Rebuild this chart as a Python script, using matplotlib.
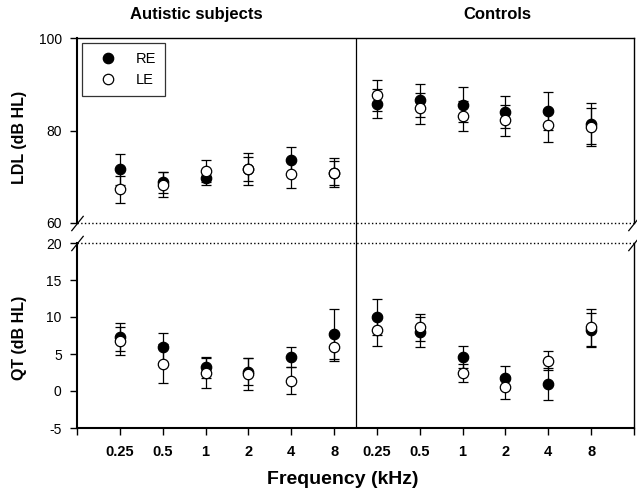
import numpy as np
import matplotlib
matplotlib.use("Agg")
from matplotlib import pyplot as plt
from matplotlib import transforms
from matplotlib.lines import Line2D

plt.rcParams['font.family'] = ['Liberation Sans', 'DejaVu Sans']

# ---------- data ----------
freqs = ['0.25', '0.5', '1', '2', '4', '8']
groups = ['Autistic subjects', 'Controls']

# LDL (dB HL), mean and SD
ldl_re_aut = [71.6, 68.8, 69.8, 71.7, 73.6, 70.9]
ldl_re_aut_sd = [3.4, 2.3, 1.6, 3.4, 2.9, 3.1]
ldl_le_aut = [67.3, 68.3, 71.2, 71.6, 70.6, 70.9]
ldl_le_aut_sd = [2.9, 2.7, 2.4, 2.6, 3.1, 2.6]
ldl_re_con = [85.8, 86.5, 85.6, 84.0, 84.2, 81.5]
ldl_re_con_sd = [3.1, 3.6, 3.8, 3.4, 4.1, 4.5]
ldl_le_con = [87.6, 84.8, 83.1, 82.2, 81.1, 80.7]
ldl_le_con_sd = [3.4, 3.4, 3.2, 3.3, 3.5, 4.1]

# QT (dB HL), mean and SD
qt_re_aut = [7.3, 5.9, 3.2, 2.6, 4.6, 7.7]
qt_re_aut_sd = [1.9, 2.0, 1.4, 1.8, 1.3, 3.35]
qt_le_aut = [6.8, 3.7, 2.4, 2.3, 1.4, 5.9]
qt_le_aut_sd = [1.9, 2.6, 2.0, 2.1, 1.8, 1.9]
qt_re_con = [10.05, 8.0, 4.6, 1.8, 0.95, 8.3]
qt_re_con_sd = [2.45, 2.0, 1.5, 1.55, 2.1, 2.3]
qt_le_con = [8.2, 8.6, 2.4, 0.5, 4.1, 8.6]
qt_le_con_sd = [2.1, 1.8, 1.25, 1.55, 1.3, 2.5]


# ---------- broken y scale ----------
def fwd(y):
    y = np.asarray(y, dtype=float)
    return np.where(y <= 20, (y + 5) * 7.4,
                    np.where(y <= 60, 185 + (y - 20) * 0.5,
                             205 + (y - 60) * 4.625))


def inv(u):
    u = np.asarray(u, dtype=float)
    return np.where(u <= 185, u / 7.4 - 5,
                    np.where(u <= 205, 20 + (u - 185) * 2.0,
                             60 + (u - 205) / 4.625))


fig = plt.figure(figsize=(6.37, 4.93), dpi=100)
ax = fig.add_axes([77 / 637, 1 - 428 / 493, 557 / 637, 390 / 493])
ax.set_yscale('function', functions=(fwd, inv))
ax.set_xlim(0, 13)
ax.set_ylim(-5, 100)

n = len(freqs)
x_aut = np.arange(1, n + 1)
x_con = np.arange(n + 1, 2 * n + 1)
x_all = np.concatenate([x_aut, x_con])

ebkw = dict(fmt='o', color='black', ms=7.5, mew=0.9, elinewidth=0.9,
            capsize=3.3, capthick=0.9, zorder=3)

re_mean = np.concatenate([ldl_re_aut, ldl_re_con])
re_sd = np.concatenate([ldl_re_aut_sd, ldl_re_con_sd])
le_mean = np.concatenate([ldl_le_aut, ldl_le_con])
le_sd = np.concatenate([ldl_le_aut_sd, ldl_le_con_sd])
ax.errorbar(x_all, re_mean, yerr=re_sd, mfc='black', **ebkw)
ax.errorbar(x_all, le_mean, yerr=le_sd, mfc='white', **ebkw)

re_mean = np.concatenate([qt_re_aut, qt_re_con])
re_sd = np.concatenate([qt_re_aut_sd, qt_re_con_sd])
le_mean = np.concatenate([qt_le_aut, qt_le_con])
le_sd = np.concatenate([qt_le_aut_sd, qt_le_con_sd])
ax.errorbar(x_all, re_mean, yerr=re_sd, mfc='black', **ebkw)
ax.errorbar(x_all, le_mean, yerr=le_sd, mfc='white', **ebkw)

# break lines, divider
ax.axhline(60, ls=':', lw=1.0, color='black')
ax.axhline(20, ls=':', lw=1.0, color='black')
ax.axvline(6.5, lw=0.9, color='black')

# spines: left/right broken
for s in ['left', 'right']:
    ax.spines[s].set_visible(False)
ax.spines['bottom'].set_linewidth(1.5)
ax.spines['top'].set_linewidth(1.0)
for seg in [(-5, 20), (60, 100)]:
    ax.plot([0, 0], seg, color='black', lw=1.5, clip_on=False, zorder=4)
    ax.plot([13, 13], seg, color='black', lw=1.0, clip_on=False, zorder=4)
slash = [(-0.8, -1), (0.8, 1)]
for yb in [60, 20]:
    ax.plot([0, 13], [yb, yb], ls='none', marker=slash, ms=11, mew=0.9,
            color='black', clip_on=False, zorder=5)

# ticks
ax.set_yticks([-5, 0, 5, 10, 15, 20, 60, 80, 100])
ax.set_yticklabels(['-5', '0', '5', '10', '15', '20', '60', '80', '100'])
ax.yaxis.set_minor_locator(matplotlib.ticker.NullLocator())
ax.set_xticks(np.arange(0, 2 * n + 2))
ax.set_xticklabels([''] + freqs + freqs + [''], fontweight='bold')
ax.tick_params(axis='y', direction='out', length=5, width=1.0, pad=6,
               labelsize=10)
ax.tick_params(axis='x', direction='out', length=5, width=1.0, pad=7,
               labelsize=10.5)

ax.set_xlabel('Frequency (kHz)', fontsize=14, fontweight='bold')
ax.xaxis.set_label_coords(0.478, -52 / 390)
ax.xaxis.label.set_va('center')

# y labels for the two panels
tr = transforms.blended_transform_factory(fig.transFigure, ax.transData)
ax.text(20 / 637, 78.6, 'LDL (dB HL)', transform=tr, rotation=90,
        ha='center', va='center', fontsize=11.5, fontweight='bold')
ax.text(20 / 637, 7.2, 'QT (dB HL)', transform=tr, rotation=90,
        ha='center', va='center', fontsize=11.5, fontweight='bold')

# group titles
tr2 = transforms.blended_transform_factory(ax.transData, ax.transAxes)
ax.text(2.78, 1.059, groups[0], transform=tr2, ha='center', va='center',
        fontsize=12, fontweight='bold')
ax.text(9.82, 1.059, groups[1], transform=tr2, ha='center', va='center',
        fontsize=12, fontweight='bold')

# legend
handles = [Line2D([], [], ls='none', marker='o', color='black', mfc='black',
                  ms=7.5, mew=0.9),
           Line2D([], [], ls='none', marker='o', color='black', mfc='white',
                  ms=7.5, mew=0.9)]
leg = ax.legend(handles, ['RE', 'LE'], loc='upper left', fontsize=10.5,
                frameon=True, fancybox=False, edgecolor='black',
                borderaxespad=0.35, borderpad=0.6, labelspacing=0.5,
                handlelength=2.3, handletextpad=0.8)
leg.get_frame().set_linewidth(0.9)

plt.savefig("out.png", dpi=100)
